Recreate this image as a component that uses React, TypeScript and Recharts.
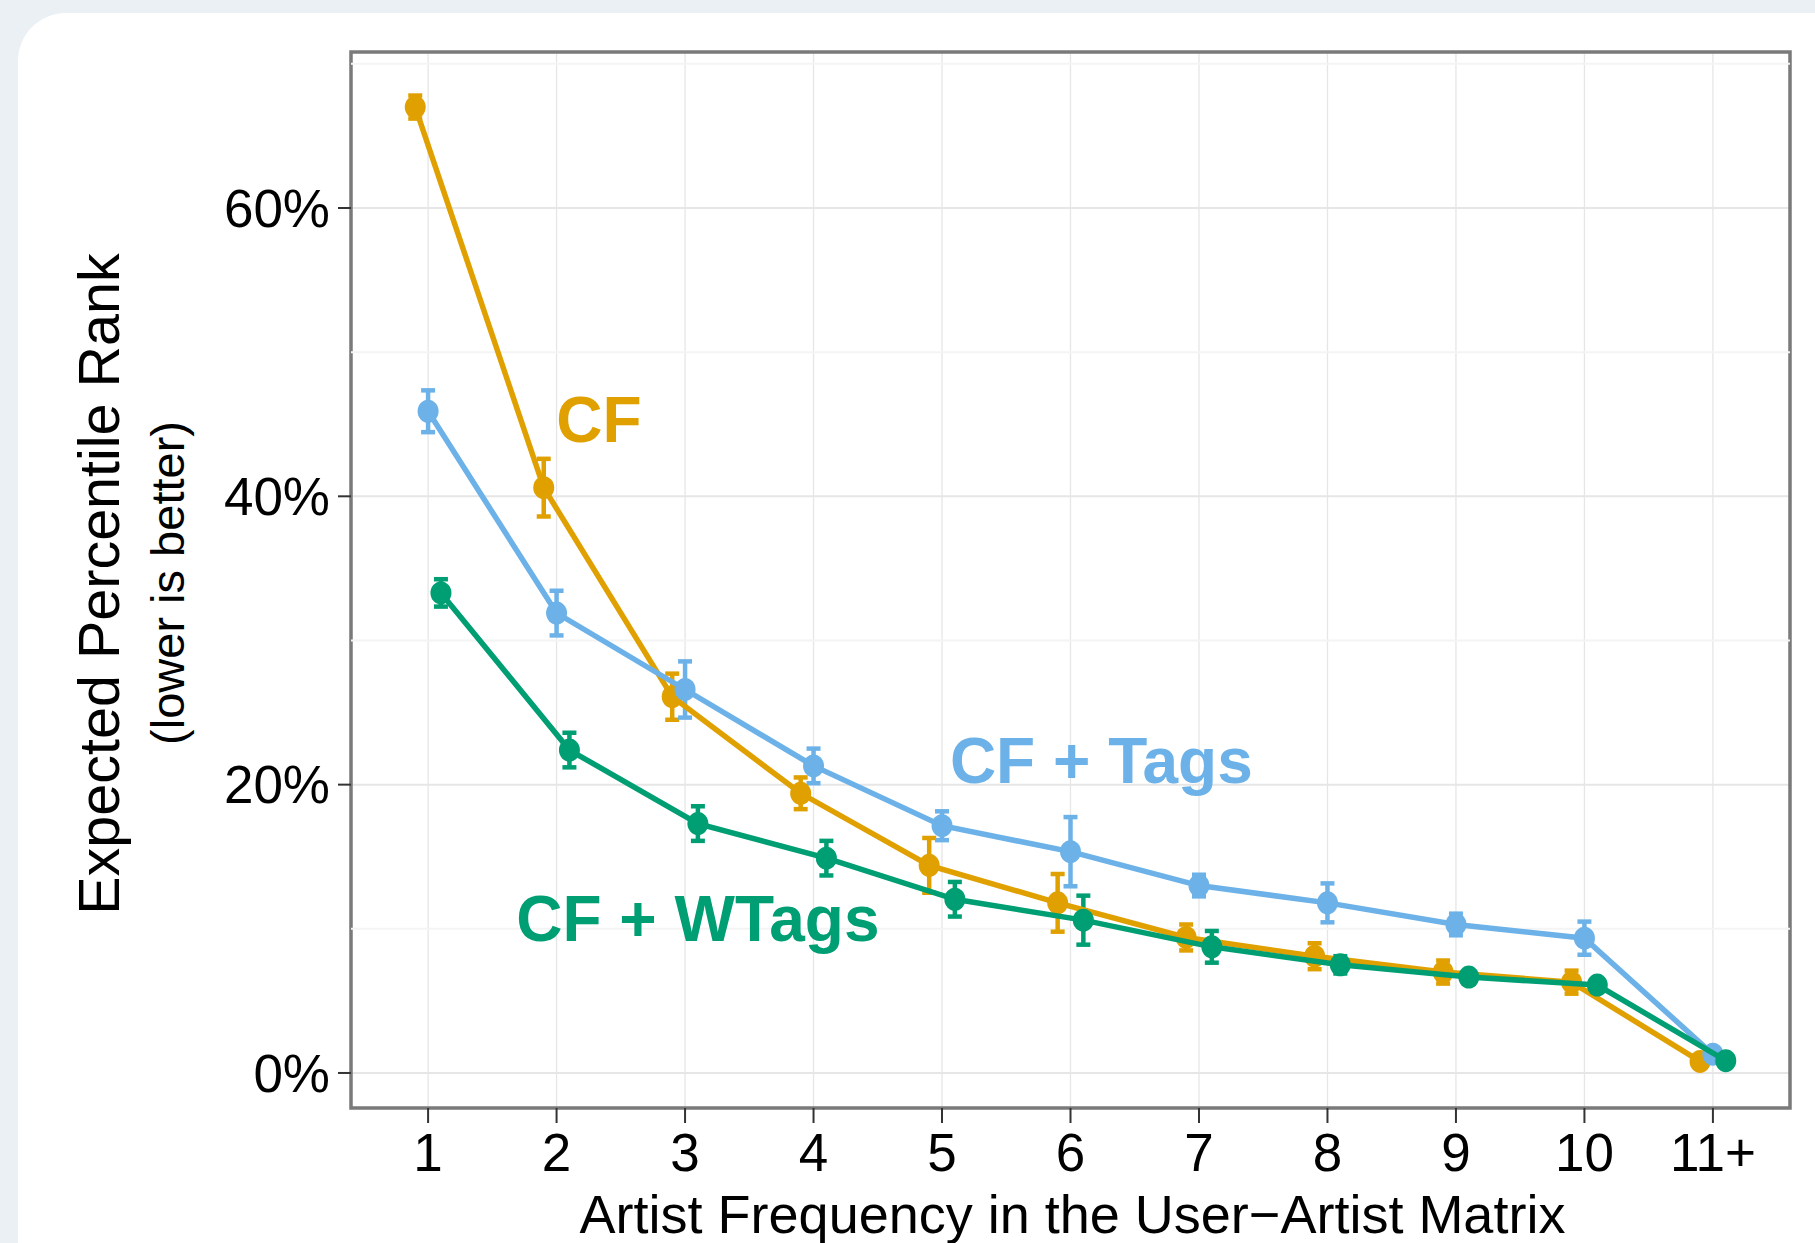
import React from 'react';
import {
  ComposedChart,
  Scatter,
  XAxis,
  YAxis,
  CartesianGrid,
  ErrorBar,
  ReferenceLine,
  ReferenceArea,
  ReferenceDot,
  Label,
} from 'recharts';

// ---------- data ----------
const categories = [1, 2, 3, 4, 5, 6, 7, 8, 9, 10, 11];
const xTickLabels = ['1', '2', '3', '4', '5', '6', '7', '8', '9', '10', '11+'];
const yTicks = [0, 20, 40, 60];
const yMinorTicks = [10, 30, 50, 70];

const cfValues = [67.0, 40.6, 26.1, 19.4, 14.4, 11.8, 9.4, 8.1, 7.0, 6.3, 0.8];
const cfErrors = [0.8, 2.0, 1.6, 1.1, 1.9, 2.0, 0.9, 0.9, 0.8, 0.8, 0.3];

const tagsValues = [45.9, 31.9, 26.6, 21.3, 17.15, 15.35, 13.0, 11.8, 10.3, 9.35, 1.3];
const tagsErrors = [1.45, 1.55, 1.95, 1.2, 1.0, 2.4, 0.75, 1.35, 0.75, 1.15, 0.3];

const wtagsValues = [33.3, 22.4, 17.3, 14.9, 12.05, 10.6, 8.75, 7.5, 6.65, 6.1, 0.85];
const wtagsErrors = [0.95, 1.2, 1.2, 1.2, 1.2, 1.7, 1.1, 0.6, 0.4, 0.4, 0.3];

const seriesNames = ['CF', 'CF + Tags', 'CF + WTags'];
// annotation anchors (data coordinates, text baseline)
const annotationX = [2.33, 6.24, 3.1];
const annotationY = [43.75, 20.1, 9.17];

// ---------- style ----------
const FONT = '"Liberation Sans", Arial, Helvetica, sans-serif';
const COLORS = ['#E0A000', '#6CB2E8', '#009E73'];
const DODGE = [-0.1, 0, 0.1];
const X_DOMAIN: [number, number] = [0.4, 11.6];
const Y_DOMAIN: [number, number] = [-2.43, 70.82];

const build = (vals: number[], errs: number[], dodge: number) =>
  categories.map((c, i) => ({ x: c + dodge, y: vals[i], e: errs[i] }));

const seriesData = [
  build(cfValues, cfErrors, DODGE[0]),
  build(tagsValues, tagsErrors, DODGE[1]),
  build(wtagsValues, wtagsErrors, DODGE[2]),
];

const XTitle = (props: any) => {
  const vb = props.viewBox || {};
  return (
    <text
      x={vb.x + vb.width / 2 + 2}
      y={vb.y + 125}
      textAnchor="middle"
      fontFamily={FONT}
      fontSize={54}
      fill="#000"
    >
      Artist Frequency in the User−Artist Matrix
    </text>
  );
};

const YTitle = (props: any) => {
  const vb = props.viewBox || {};
  const cy = vb.y + vb.height / 2;
  return (
    <g>
      <text
        transform={`translate(${vb.x + 119}, ${cy + 4}) rotate(-90)`}
        textAnchor="middle"
        fontFamily={FONT}
        fontSize={57.5}
        fill="#000"
      >
        Expected Percentile Rank
      </text>
      <text
        transform={`translate(${vb.x + 184}, ${cy + 3}) rotate(-90)`}
        textAnchor="middle"
        fontFamily={FONT}
        fontSize={47}
        fill="#000"
      >
        (lower is better)
      </text>
    </g>
  );
};

export default function App() {
  return (
    <div
      style={{
        position: 'fixed',
        left: 0,
        top: 0,
        width: 1815,
        height: 1243,
        background: '#EBF0F5',
        overflow: 'hidden',
      }}
    >
      <div
        style={{
          position: 'absolute',
          left: 18,
          top: 13,
          width: 1900,
          height: 1400,
          background: '#FFFFFF',
          borderTopLeftRadius: 48,
        }}
      />
      <div style={{ position: 'absolute', left: 0, top: 0 }}>
        <ComposedChart
          width={1815}
          height={1243}
          margin={{ top: 52, right: 25, bottom: 0, left: 0 }}
        >
          <CartesianGrid horizontal={false} stroke="#E6E6E6" strokeWidth={1.3} />
          <CartesianGrid vertical={false} stroke="#E6E6E6" strokeWidth={2} />
          {yMinorTicks.map((v) => (
            <ReferenceLine key={v} y={v} stroke="#F4F4F4" strokeWidth={2} />
          ))}
          <XAxis
            type="number"
            dataKey="x"
            domain={X_DOMAIN}
            allowDataOverflow
            ticks={categories}
            interval={0}
            tickFormatter={(v: number) => xTickLabels[categories.indexOf(v)]}
            tick={{ fill: '#000', fontSize: 53, fontFamily: FONT }}
            tickLine={{ stroke: '#333', strokeWidth: 2 }}
            tickSize={15}
            tickMargin={10}
            axisLine={false}
            height={135}
          >
            <Label content={<XTitle />} />
          </XAxis>
          <YAxis
            type="number"
            dataKey="y"
            domain={Y_DOMAIN}
            allowDataOverflow
            ticks={yTicks}
            interval={0}
            tickFormatter={(v: number) => `${v}%`}
            tick={{ fill: '#000', fontSize: 53, fontFamily: FONT }}
            tickLine={{ stroke: '#333', strokeWidth: 2 }}
            tickSize={13}
            tickMargin={8}
            axisLine={false}
            width={351}
          >
            <Label content={<YTitle />} />
          </YAxis>
          {seriesData.map((data, si) => (
            <Scatter
              key={seriesNames[si]}
              name={seriesNames[si]}
              data={data}
              fill={COLORS[si]}
              isAnimationActive={false}
              line={{ stroke: COLORS[si], strokeWidth: 5.5 }}
              lineJointType="linear"
              shape={(p: any) => (
                <ellipse cx={p.cx} cy={p.cy} rx={10.5} ry={11.5} fill={COLORS[si]} />
              )}
            >
              <ErrorBar
                dataKey="e"
                direction="y"
                width={7}
                strokeWidth={4.5}
                stroke={COLORS[si]}
                isAnimationActive={false}
              />
            </Scatter>
          ))}
          <ReferenceArea
            x1={X_DOMAIN[0]}
            x2={X_DOMAIN[1]}
            y1={Y_DOMAIN[0]}
            y2={Y_DOMAIN[1]}
            fill="none"
            fillOpacity={0}
            stroke="#7A7A7A"
            strokeWidth={3.5}
            ifOverflow="visible"
          />
          {seriesNames.map((name, i) => (
            <ReferenceDot
              key={'ann-' + name}
              x={annotationX[i]}
              y={annotationY[i]}
              r={0}
              ifOverflow="visible"
              shape={(p: any) => (
                <text
                  x={p.cx}
                  y={p.cy}
                  textAnchor="middle"
                  fontFamily={FONT}
                  fontWeight="bold"
                  fontSize={64}
                  fill={COLORS[i]}
                >
                  {name}
                </text>
              )}
            />
          ))}
        </ComposedChart>
      </div>
    </div>
  );
}
